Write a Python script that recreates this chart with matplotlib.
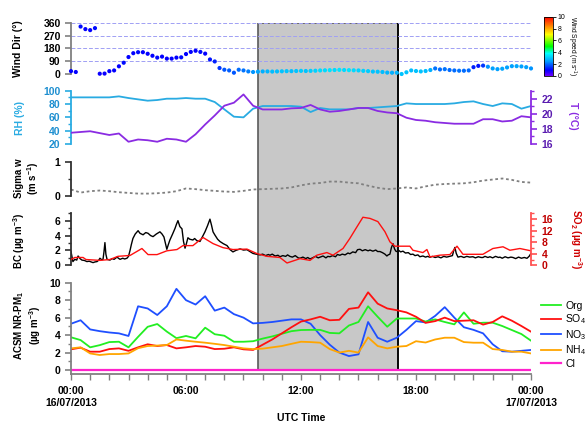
import matplotlib
matplotlib.use('Agg')
import matplotlib.pyplot as plt
import numpy as np
from matplotlib.colors import LinearSegmentedColormap
from matplotlib.ticker import MultipleLocator

plt.rcParams['font.family'] = ['Liberation Sans', 'DejaVu Sans']
plt.rcParams['font.weight'] = 'bold'
plt.rcParams['mathtext.default'] = 'regular'

# ---------------- data ----------------
shade_start, shade_end = 9.75, 17.05

# wind, every 15 min
wind_time = np.arange(97) * 0.25
wind_dir = [20, 14, 333, 315, 308, 322, 2, 3, 20, 25, 54, 79, 119, 146, 153, 153, 142, 128, 115, 122,
            108, 108, 115, 117, 140, 155, 163, 155, 143, 102, 88, 42, 30, 25, 9, 30, 25, 18, 14, 16,
            18, 18, 17, 18, 19, 20, 20, 21, 22, 21, 22, 23, 25, 26, 27, 28, 29, 28, 27, 26,
            25, 22, 20, 17, 16, 14, 10, 9, 9, 0, 12, 25, 21, 18, 21, 28, 39, 32, 34, 28,
            25, 23, 23, 25, 48, 57, 59, 51, 39, 34, 37, 46, 55, 55, 53, 48, 39]
wind_spd = [1.0, 1.0, 1.1, 1.0, 1.0, 1.1, 0.9, 0.9, 1.0, 1.0, 1.0, 1.1, 1.0, 1.0, 1.1, 1.0, 1.0, 1.0, 1.1, 1.0,
            1.0, 1.0, 1.0, 1.1, 1.0, 1.0, 1.0, 1.1, 1.0, 1.2, 1.3, 1.5,
            1.8, 1.9, 1.8, 2.0, 2.1, 2.2,
            2.4, 2.6, 2.7, 2.8,
            2.9, 2.9, 3.0, 3.0, 2.9, 3.0, 3.1, 3.0, 3.1, 3.2, 3.3, 3.3, 3.4, 3.3,
            3.4, 3.3, 3.4, 3.3, 3.2, 3.2, 3.1,
            3.0, 3.0, 2.9, 2.8, 2.7, 2.8,
            3.0, 3.0, 2.9, 3.0, 3.0, 2.9, 2.7,
            2.1, 2.0, 2.1, 2.0, 2.0, 2.1, 2.0, 2.0,
            1.3, 1.2, 1.5,
            2.4, 2.5, 2.5, 2.6, 2.5, 2.5, 2.6, 2.5, 2.5, 2.4]

# half-hourly series
t30 = np.arange(49) * 0.5
rh = [90, 90, 90, 90, 90, 91.5, 89, 87, 85, 86, 88, 88, 89, 88, 88, 83, 72, 61, 60, 73,
      77, 77, 77, 77, 76, 68, 74, 72, 72, 72, 74, 74, 75, 76, 77, 81, 80, 80, 80, 80,
      81, 83, 84, 80, 77, 81, 80, 73, 77]
temp = [17.5, 17.6, 17.7, 17.45, 17.2, 17.4, 16.3, 16.6, 16.5, 16.3, 16.7, 16.6, 16.3, 17.3, 18.6, 19.8,
        21.1, 21.5, 22.6, 21.1, 20.6, 20.6, 20.6, 20.75, 20.8, 21.2, 20.6, 20.3, 20.4, 20.6, 20.8, 20.8,
        20.4, 20.2, 20.1, 19.5, 19.2, 19.1, 18.9, 18.8, 18.7, 18.7, 18.7, 19.3, 19.3, 19.0, 19.1, 19.7, 19.55]
sigma_w = [0.19, 0.1, 0.14, 0.16, 0.14, 0.11, 0.09, 0.07, 0.07, 0.08, 0.1, 0.14, 0.22, 0.2, 0.17, 0.15,
           0.13, 0.12, 0.15, 0.19, 0.2, 0.21, 0.22, 0.25, 0.31, 0.36, 0.38, 0.42, 0.42, 0.39, 0.37, 0.3,
           0.24, 0.2, 0.22, 0.25, 0.22, 0.28, 0.33, 0.35, 0.36, 0.37, 0.4, 0.45, 0.48, 0.51, 0.47, 0.41, 0.39]

org = [3.75, 3.43, 2.6, 2.85, 3.2, 3.24, 2.6, 3.8, 4.95, 5.27, 4.4, 3.65, 3.9, 3.63, 4.85, 4.1,
       3.93, 3.24, 3.24, 3.3, 3.6, 3.85, 4.15, 4.45, 4.58, 4.6, 4.6, 4.25, 4.2, 5.1, 5.5, 7.3,
       6.1, 4.96, 5.9, 5.9, 5.9, 5.55, 5.8, 5.5, 5.23, 6.6, 5.3, 5.42, 5.42, 5.04, 4.58, 4.12, 3.36]
so4 = [2.37, 2.56, 2.1, 2.1, 2.4, 2.48, 2.2, 2.6, 2.95, 2.75, 2.86, 2.48, 2.6, 2.75, 2.67, 2.4,
       2.44, 2.6, 2.37, 2.3, 2.9, 3.5, 4.2, 4.9, 5.55, 5.8, 6.1, 5.7, 5.75, 7.0, 7.15, 8.9,
       7.6, 7.05, 6.85, 6.6, 6.1, 5.4, 5.6, 6.0, 5.6, 5.65, 5.7, 5.2, 5.5, 6.15, 5.65, 5.04, 4.39]
no3 = [5.3, 5.7, 4.65, 4.45, 4.3, 4.2, 3.9, 7.3, 7.05, 6.3, 7.3, 9.3, 8.0, 7.5, 8.45, 6.8,
       7.15, 6.4, 6.0, 5.34, 5.4, 5.5, 5.65, 5.8, 5.8, 5.3, 4.0, 2.9, 2.0, 1.6, 1.8, 5.5,
       3.7, 3.24, 3.7, 4.6, 5.6, 5.45, 6.2, 7.2, 6.0, 4.9, 4.6, 4.2, 2.95, 2.15, 2.1, 2.2, 2.3]
nh4 = [2.48, 2.6, 1.9, 1.72, 1.83, 1.83, 1.9, 2.5, 2.75, 2.8, 2.86, 3.5, 3.36, 3.24, 3.13, 3.0,
       2.86, 2.67, 2.48, 2.4, 2.45, 2.6, 2.75, 3.0, 3.24, 3.2, 3.13, 2.4, 2.0, 2.2, 2.0, 3.74,
       2.75, 2.48, 2.67, 2.75, 3.3, 3.15, 3.5, 3.7, 3.7, 3.2, 3.13, 3.13, 2.4, 2.3, 2.1, 2.1, 1.9]
chl = [0.0] * 49

# black carbon (high resolution) and SO2
bc_time = [0.0, 0.05, 0.1, 0.2, 0.3, 0.37, 0.47, 0.57, 0.7, 0.83, 0.95, 1.05, 1.15, 1.25, 1.36, 1.45, 1.51,
           1.6, 1.67, 1.72, 1.77, 1.82, 1.88, 1.95, 2.03, 2.15, 2.25, 2.4, 2.5, 2.56, 2.7, 2.8, 2.92, 3.0,
           3.08, 3.15, 3.23, 3.35, 3.5, 3.6, 3.76, 3.9, 4.02, 4.15, 4.28, 4.45, 4.64, 4.75, 4.85, 5.0,
           5.08, 5.16, 5.3, 5.43, 5.5, 5.58, 5.68, 5.79, 5.87, 5.95, 6.03, 6.1, 6.2, 6.36, 6.45, 6.57,
           6.73, 6.85, 6.99, 7.12, 7.25, 7.33, 7.41, 7.5, 7.65, 7.77, 7.95, 8.14, 8.3, 8.45, 8.6, 8.82,
           9.0, 9.18, 9.3, 9.49, 9.65, 9.86, 10.0, 10.15, 10.3, 10.38, 10.5, 10.65, 10.8, 10.9, 11.05,
           11.2, 11.3, 11.42, 11.55, 11.7, 11.85, 11.95, 12.1, 12.25, 12.35, 12.47, 12.6, 12.75, 12.9,
           13.0, 13.15, 13.3, 13.4, 13.51, 13.65, 13.8, 13.9, 14.03, 14.15, 14.3, 14.45, 14.55, 14.7,
           14.85, 14.95, 15.08, 15.2, 15.35, 15.5, 15.6, 15.75, 15.9, 16.0, 16.12, 16.25, 16.38, 16.48,
           16.55, 16.64, 16.72, 16.8, 16.88, 16.95, 17.0, 17.1, 17.2, 17.32, 17.45, 17.6, 17.72, 17.84,
           17.95, 18.1, 18.2, 18.36, 18.5, 18.6, 18.73, 18.85, 19.0, 19.15, 19.3, 19.45, 19.6, 19.75,
           19.9, 19.97, 20.03, 20.1, 20.19, 20.35, 20.5, 20.65, 20.8, 20.97, 21.1, 21.25, 21.4, 21.49,
           21.6, 21.75, 21.86, 22.0, 22.15, 22.3, 22.38, 22.5, 22.65, 22.8, 22.95, 23.06, 23.2, 23.35,
           23.5, 23.65, 23.79, 23.9, 24.0]
bc_value = [1.84, 1.2, 0.5, 0.8, 0.7, 1.25, 0.9, 0.7, 0.65, 0.5, 0.55, 0.45, 0.36, 0.45, 0.5, 0.7, 0.95,
            0.75, 0.8, 1.8, 3.05, 1.5, 0.8, 0.75, 0.7, 0.9, 0.8, 1.1, 0.9, 0.8, 0.95, 0.85, 0.95, 1.2,
            2.0, 2.8, 3.6, 4.2, 4.65, 4.3, 4.1, 4.4, 4.3, 4.0, 3.85, 4.2, 4.5, 4.2, 3.8, 2.15,
            2.8, 3.4, 4.2, 4.98, 5.5, 6.0, 5.2, 4.9, 3.2, 2.3, 3.0, 3.7, 3.5, 3.4, 3.6, 3.3,
            3.2, 3.8, 4.5, 5.3, 6.2, 5.4, 4.5, 4.1, 3.5, 3.2, 2.9, 2.65, 2.1, 1.8, 2.0, 2.2,
            2.05, 2.1, 1.9, 1.6, 1.5, 1.4, 1.5, 1.3, 1.45, 1.35, 1.5, 1.25, 1.35, 1.15, 1.3,
            1.2, 1.4, 1.2, 1.1, 1.3, 1.0, 0.95, 1.1, 0.9, 1.05, 0.85, 1.0, 1.2, 1.0,
            1.1, 1.25, 1.0, 1.2, 1.15, 1.3, 1.15, 1.45, 1.35, 1.5, 1.4, 1.65, 1.55, 1.8,
            1.7, 2.1, 2.15, 1.95, 2.1, 1.95, 2.05, 1.9, 2.05, 1.85, 1.85, 1.7, 1.5, 1.25,
            1.4, 1.5, 2.4, 2.9, 2.2, 1.9, 1.84, 2.0, 1.8, 1.9, 1.65, 1.7, 1.45, 1.5,
            1.3, 1.4, 1.15, 1.25, 1.1, 1.2, 1.08, 1.2, 1.05, 1.15, 1.0, 1.2, 1.1, 1.2,
            1.3, 2.0, 2.4, 1.6, 1.1, 1.2, 1.05, 1.2, 1.1, 1.15, 1.0, 1.15, 1.05, 1.05,
            1.2, 1.05, 1.15, 1.0, 1.2, 1.05, 1.1, 0.95, 1.15, 1.0, 1.1, 1.05, 0.9, 1.1,
            0.95, 1.05, 0.94, 1.2, 1.6]

so2_time = [0.0, 0.2, 0.63, 0.78, 1.51, 2.03, 2.45, 3.08, 3.7, 4.02, 4.49, 5.0, 5.53, 5.84, 6.36, 6.89,
            7.41, 7.93, 8.45, 9.18, 9.7, 10.22, 10.9, 11.27, 11.95, 12.47, 12.83, 13.35, 13.67, 14.19,
            14.55, 14.92, 15.23, 15.6, 16.01, 16.38, 16.64, 16.9, 17.16, 17.68, 17.84, 18.36, 18.57,
            18.73, 19.25, 19.77, 20.14, 20.45, 21.49, 22.01, 22.54, 22.9, 23.42, 24.0]
so2_value = [2.0, 2.7, 2.7, 2.0, 1.7, 2.0, 3.1, 3.4, 5.8, 3.7, 3.7, 5.0, 5.45, 6.8, 6.8, 9.6,
             7.5, 6.1, 5.45, 5.6, 4.05, 3.1, 2.7, 0.8, 2.3, 1.7, 3.5, 4.4, 3.5, 5.8,
             9.3, 13.3, 16.6, 16.2, 15.1, 11.6, 8.1, 6.6, 6.6, 6.6, 5.2, 4.4, 5.45,
             2.9, 3.5, 3.7, 6.6, 3.8, 3.8, 5.8, 6.4, 5.2, 5.8, 5.0]

xtick_pos = [0, 6, 12, 18, 24]
xtick_lab = ['00:00\n16/07/2013', '06:00', '12:00', '18:00', '00:00\n17/07/2013']

# ---------------- figure ----------------
fig = plt.figure(figsize=(5.86, 4.29), dpi=100)
H = 429.0
L, W = 71 / 586, 460 / 586


def box(top_px, bot_px):
    return [L, 1 - bot_px / H, W, (bot_px - top_px) / H]


GREY = '#808080'


def style(ax, color=GREY, side='left'):
    for s in ['top', 'right', 'bottom', 'left']:
        ax.spines[s].set_visible(s == side)
    ax.spines[side].set_color(color)
    ax.spines[side].set_linewidth(1.3)
    ax.set_xlim(0, 24)
    ax.set_xticks([])
    ax.set_facecolor('none')
    ax.tick_params(axis='y', which='major', length=4, width=1.2, color=color, labelsize=7.5)
    ax.tick_params(axis='y', which='minor', length=2.5, width=1.0, color=color)


# shaded period behind all panels
bg = fig.add_axes(box(22.7, 370))
bg.axvspan(shade_start, shade_end, facecolor='#C8C8C8', edgecolor='#5a5a5a', lw=1.2)
bg.axvline(shade_end, color='black', lw=1.3)
bg.set_xlim(0, 24)
bg.set_ylim(0, 1)
bg.axis('off')

# panel 1: wind direction coloured by speed
cmap = LinearSegmentedColormap.from_list('ws', [(0, '#7000FF'), (0.1, '#0000FF'), (0.25, '#00A0FF'),
                                                (0.38, '#00FFFF'), (0.5, '#00FF00'), (0.7, '#FFFF00'),
                                                (0.85, '#FF8000'), (1.0, '#FF0000')])
ax1 = fig.add_axes(box(22.7, 74))
style(ax1)
for v in [0, 90, 180, 270, 360]:
    ax1.axhline(v, color='#A0A0F4', lw=0.7, ls=(0, (4, 2)), zorder=1)
sc = ax1.scatter(wind_time, wind_dir, c=wind_spd, cmap=cmap, vmin=0, vmax=10, s=9, lw=0, zorder=3, clip_on=False)
ax1.set_ylim(0, 360)
ax1.set_yticks([0, 90, 180, 270, 360])
ax1.text(-0.115, 0.49, 'Wind Dir (°)', transform=ax1.transAxes, rotation=90, ha='center', va='center', fontsize=7.5)

cax = fig.add_axes([544 / 586, 1 - 76 / H, 9 / 586, 59.3 / H])
cb = fig.colorbar(sc, cax=cax)
cb.set_ticks([0, 2, 4, 6, 8, 10])
cb.ax.tick_params(labelsize=5, length=2, width=0.6, pad=1.5)
for lab in cb.ax.get_yticklabels():
    lab.set_fontweight('normal')
cb.outline.set_linewidth(0.6)
cb.set_label('Wind Speed (m s$^{-1}$)', rotation=270, fontsize=4.8, fontweight='normal', labelpad=9)

# panel 2: RH and T
RHC, TC = '#29ABE2', '#8A2BE2'
ax2 = fig.add_axes(box(90.7, 144))
style(ax2, RHC)
ax2.plot(t30, rh, color=RHC, lw=1.3)
ax2.set_ylim(20, 100)
ax2.yaxis.set_major_locator(MultipleLocator(20))
ax2.yaxis.set_minor_locator(MultipleLocator(10))
ax2.tick_params(axis='y', labelcolor='#1E8FD0')
ax2.text(-0.111, 0.49, 'RH (%)', transform=ax2.transAxes, rotation=90, ha='center', va='center',
         fontsize=7.5, color=RHC)
ax2t = ax2.twinx()
style(ax2t, TC, side='right')
ax2t.plot(t30, temp, color=TC, lw=1.3)
ax2t.set_ylim(16, 23.1)
ax2t.yaxis.set_major_locator(MultipleLocator(2))
ax2t.yaxis.set_minor_locator(MultipleLocator(1))
ax2t.tick_params(axis='y', labelcolor='#5A1CB0')
ax2t.text(1.091, 0.525, 'T (°C)', transform=ax2t.transAxes, rotation=270, ha='center', va='center',
          fontsize=7.5, color=TC)

# panel 3: sigma w
ax3 = fig.add_axes(box(161.7, 196))
style(ax3, '#303030')
ax3.plot(t30, sigma_w, color=GREY, lw=1.3, ls=(0, (1.5, 1.5)))
ax3.set_ylim(0, 1)
ax3.set_yticks([0, 1])
ax3.yaxis.set_minor_locator(MultipleLocator(0.5))
ax3.text(-0.095, 0.52, 'Sigma w\n(m s$^{-1}$)', transform=ax3.transAxes, rotation=90, ha='center',
         va='center', fontsize=7, linespacing=1.1)

# panel 4: BC and SO2
ax4 = fig.add_axes(box(213.2, 265.3))
style(ax4, '#303030')
ax4.plot(bc_time, bc_value, color='black', lw=1.0)
ax4.set_ylim(0, 7)
ax4.set_yticks([0, 2, 4, 6])
ax4.yaxis.set_minor_locator(MultipleLocator(1))
ax4.text(-0.113, 0.47, 'BC (µg m$^{-3}$)', transform=ax4.transAxes, rotation=90, ha='center',
         va='center', fontsize=7)
ax4t = ax4.twinx()
style(ax4t, '#FF5050', side='right')
ax4t.plot(so2_time, so2_value, color='#FF1010', lw=1.0)
ax4t.set_ylim(0, 18)
ax4t.set_yticks([0, 4, 8, 12, 16])
ax4t.yaxis.set_minor_locator(MultipleLocator(2))
ax4t.tick_params(axis='y', labelcolor='#C00000')
ax4t.text(1.098, 0.5, 'SO$_2$ (µg m$^{-3}$)', transform=ax4t.transAxes, rotation=270, ha='center',
          va='center', fontsize=7, color='#D00000')

# panel 5: ACSM species
ax5 = fig.add_axes(box(282.7, 374.4))
style(ax5)
ax5.spines['bottom'].set_visible(True)
ax5.spines['bottom'].set_color(GREY)
ax5.spines['bottom'].set_linewidth(1.3)
l_no3, = ax5.plot(t30, no3, color='#1F4FFF', lw=1.3)
l_org, = ax5.plot(t30, org, color='#22EE22', lw=1.3)
l_so4, = ax5.plot(t30, so4, color='#FF1010', lw=1.3)
l_nh4, = ax5.plot(t30, nh4, color='#FFA500', lw=1.3)
l_cl, = ax5.plot(t30, chl, color='#FF22CC', lw=1.6)
ax5.set_ylim(-0.5, 10)
ax5.set_yticks([0, 2, 4, 6, 8, 10])
ax5.yaxis.set_minor_locator(MultipleLocator(1))
ax5.set_xticks(xtick_pos)
ax5.set_xticklabels(xtick_lab)
ax5.xaxis.set_minor_locator(MultipleLocator(1))
ax5.tick_params(axis='x', which='both', length=4.5, width=1.0, color=GREY, labelsize=7.5, pad=4)
ax5.set_xlabel('UTC Time', fontsize=7.5, fontweight='bold', labelpad=4)
ax5.text(-0.095, 0.53, 'ACSM NR-PM$_1$\n(µg m$^{-3}$)', transform=ax5.transAxes, rotation=90,
         ha='center', va='center', fontsize=7, linespacing=1.1)
leg = ax5.legend([l_org, l_so4, l_no3, l_nh4, l_cl], ['Org', 'SO$_4$', 'NO$_3$', 'NH$_4$', 'Cl'],
                 loc='upper left', bbox_to_anchor=(1.022, 0.8), frameon=False, borderpad=0,
                 borderaxespad=0, handlelength=1.9, handletextpad=0.4, labelspacing=0.15,
                 prop={'size': 7.5, 'weight': 'normal'})

fig.savefig('out.png', dpi=100)
